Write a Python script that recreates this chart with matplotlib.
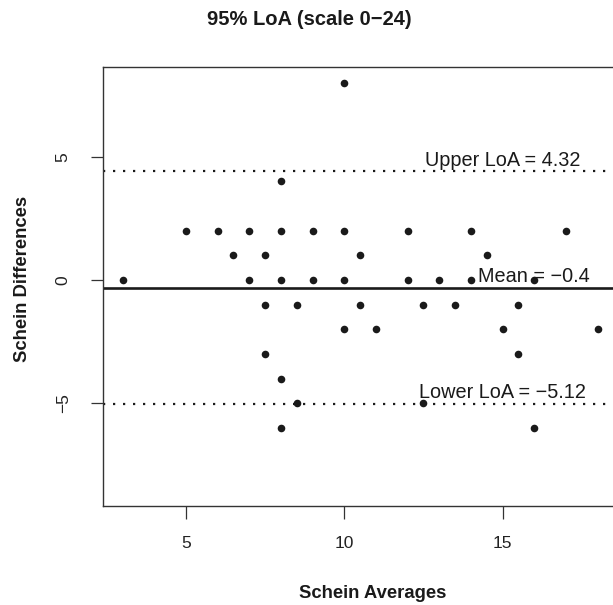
import numpy as np
import matplotlib
matplotlib.use("Agg")
import matplotlib.pyplot as plt

# Bland-Altman data
averages = [10, 8,
            5, 6, 7, 8, 9, 10, 12, 14, 17,
            6.5, 7.5, 10.5, 14.5,
            3, 7, 8, 9, 10, 12, 13, 14, 16,
            7.5, 8.5, 10.5, 12.5, 13.5, 15.5,
            10, 11, 15, 18,
            7.5, 15.5,
            8,
            8.5, 12.5,
            8, 16]
differences = [8, 4,
               2, 2, 2, 2, 2, 2, 2, 2, 2,
               1, 1, 1, 1,
               0, 0, 0, 0, 0, 0, 0, 0, 0,
               -1, -1, -1, -1, -1, -1,
               -2, -2, -2, -2,
               -3, -3,
               -4,
               -5, -5,
               -6, -6]

mean_line = -0.31
half_loa = 4.72
line_labels = ["Upper LoA = 4.32", "Mean = \u22120.4", "Lower LoA = \u22125.12"]
label_x = [15, 16, 15]
xticks = [5, 10, 15]
yticks = [-5, 0, 5]

plt.rcParams['font.family'] = ['Liberation Sans', 'DejaVu Sans']
plt.rcParams['lines.scale_dashes'] = False

fig = plt.figure(figsize = (6.13, 6.05), dpi = 100)
ax = fig.add_axes([0.1685, 0.1641, 0.8375, 0.7256])

ax.scatter(averages, differences, s = 30, color = '#1a1a1a', zorder = 3, linewidths = 0)

line_vals = [mean_line + half_loa, mean_line, mean_line - half_loa]
ax.axhline(line_vals[0], color = '#1a1a1a', linewidth = 1.6, linestyle = (0, (1.6, 5.6)))
ax.axhline(line_vals[1], color = '#1a1a1a', linewidth = 1.9)
ax.axhline(line_vals[2], color = '#1a1a1a', linewidth = 1.6, linestyle = (0, (1.6, 5.6)))

for lx, ly, lab in zip(label_x, line_vals, line_labels):
    ax.text(lx, ly + 0.23, lab, ha = 'center', va = 'baseline', fontsize = 14.3, color = '#1a1a1a')

ax.set_xlim(2.39, 18.6)
ax.set_ylim(-9.15, 8.65)
ax.set_xticks(xticks)
ax.set_yticks(yticks)
ax.tick_params(direction = 'out', length = 9, width = 0.9, color = '#333333', labelsize = 12.5,
               labelcolor = '#222222')
ax.tick_params(axis = 'x', pad = 13)
ax.tick_params(axis = 'y', pad = 14.5)
for lab in ax.get_yticklabels():
    lab.set_rotation(90)
    lab.set_va('center')
for sp in ax.spines.values():
    sp.set_color('#333333')
    sp.set_linewidth(1.0)

fig.text(309.8 / 613, 1 - 25 / 605, "95% LoA (scale 0\u221224)", ha = 'center', va = 'baseline',
         fontsize = 14.5, fontweight = 'bold', color = '#1a1a1a')
fig.text(373 / 613, 1 - 598 / 605, "Schein Averages", ha = 'center', va = 'baseline',
         fontsize = 13.3, fontweight = 'bold', color = '#1a1a1a')
fig.text(23 / 613, 1 - 279 / 605, "Schein Differences", ha = 'center', va = 'center', rotation = 90,
         fontsize = 13.3, fontweight = 'bold', color = '#1a1a1a')

fig.savefig("out.png", dpi = 100)
